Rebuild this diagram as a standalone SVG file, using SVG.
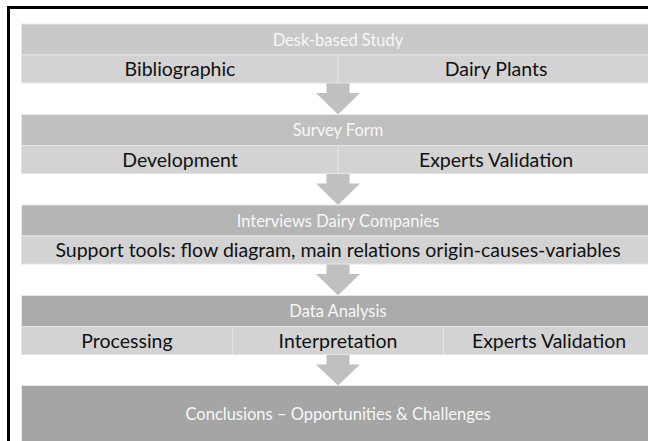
<svg xmlns="http://www.w3.org/2000/svg" width="648" height="441" viewBox="0 0 648 441">
  <defs>
    <style>
      .hdr { stroke: #e8e8e8; stroke-width: 1; }
      .sub { fill: #d3d3d3; stroke: #e4e4e4; stroke-width: 1; }
      .arrow { fill: #c0c0c0; }
      .ht { font-family: Lato, "Open Sans", sans-serif; font-size: 16.5px; fill: #f7f7f7; text-anchor: middle; }
      .st { font-family: Lato, "Open Sans", sans-serif; font-size: 19.5px; fill: #111111; text-anchor: middle; }
    </style>
  </defs>
  <rect width="648" height="441" fill="#ffffff"/>
  <!-- outer frame, running off the right and bottom edges -->
  <rect x="8.5" y="7.5" width="700" height="500" fill="none" stroke="#000000" stroke-width="3"/>

  <!-- connectors: block arrows between stages -->
  <g id="connectors">
    <path class="arrow" d="M326.5,82 H349.5 V93 H360 L338,114.5 L316,93 H326.5 Z"/>
    <path class="arrow" d="M326.5,172.5 H349.5 V183.5 H360 L338,205 L316,183.5 H326.5 Z"/>
    <path class="arrow" d="M326.5,263 H349.5 V274 H360 L338,295.5 L316,274 H326.5 Z"/>
    <path class="arrow" d="M326.5,353.5 H349.5 V364.5 H360 L338,385.5 L316,364.5 H326.5 Z"/>
  </g>

  <g id="desk-based-study">
    <rect class="hdr" x="21.5" y="24" width="633" height="31" fill="#c9c9c9"/>
    <text class="ht" x="338" y="45.5">Desk-based Study</text>
    <rect class="sub" x="21.5" y="55" width="316.5" height="28"/>
    <rect class="sub" x="338" y="55" width="316.5" height="28"/>
    <text class="st" x="180" y="76">Bibliographic</text>
    <text class="st" x="496" y="76">Dairy Plants</text>
  </g>

  <g id="survey-form">
    <rect class="hdr" x="21.5" y="114.5" width="633" height="31" fill="#bfbfbf"/>
    <text class="ht" x="338" y="136">Survey Form</text>
    <rect class="sub" x="21.5" y="145.5" width="316.5" height="28"/>
    <rect class="sub" x="338" y="145.5" width="316.5" height="28"/>
    <text class="st" x="180" y="166.5">Development</text>
    <text class="st" x="496" y="166.5">Experts Validation</text>
  </g>

  <g id="interviews">
    <rect class="hdr" x="21.5" y="205" width="633" height="31" fill="#b5b5b5"/>
    <text class="ht" x="338" y="226.5">Interviews Dairy Companies</text>
    <rect class="sub" x="21.5" y="236" width="633" height="28"/>
    <text class="st" x="338" y="257">Support tools: flow diagram, main relations origin-causes-variables</text>
  </g>

  <g id="data-analysis">
    <rect class="hdr" x="21.5" y="295.5" width="633" height="31" fill="#ababab"/>
    <text class="ht" x="338" y="317">Data Analysis</text>
    <rect class="sub" x="21.5" y="326.5" width="211" height="28"/>
    <rect class="sub" x="232.5" y="326.5" width="211" height="28"/>
    <rect class="sub" x="443.5" y="326.5" width="211" height="28"/>
    <text class="st" x="127" y="347.5">Processing</text>
    <text class="st" x="338" y="347.5">Interpretation</text>
    <text class="st" x="549" y="347.5">Experts Validation</text>
  </g>

  <g id="conclusions">
    <rect class="hdr" x="21.5" y="385.5" width="633" height="70" fill="#a5a5a5"/>
    <text class="ht" x="338" y="420">Conclusions – Opportunities &amp; Challenges</text>
  </g>
</svg>
